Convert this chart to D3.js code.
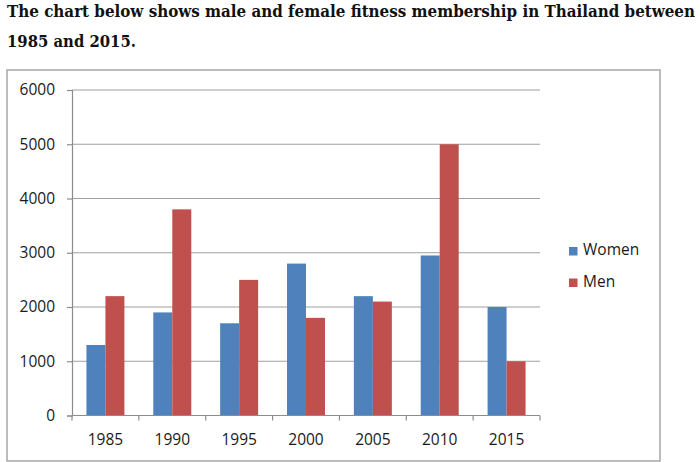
<!DOCTYPE html>
<html>
<head>
<meta charset="utf-8">
<script src="https://cdn.jsdelivr.net/npm/d3@7"></script>
<style>
  html, body { margin: 0; padding: 0; background: #fff; }
  svg { display: block; }
</style>
</head>
<body>
<svg id="chart"></svg>
<script>
// ---- data ----
const years = ['1985', '1990', '1995', '2000', '2005', '2010', '2015'];
const women = [1300, 1900, 1700, 2800, 2200, 2950, 2000];
const men   = [2200, 3800, 2500, 1800, 2100, 5000, 1000];
const seriesNames = ['Women', 'Men'];
const yTicks = [0, 1000, 2000, 3000, 4000, 5000, 6000];
const titleLines = [
  'The chart below shows male and female fitness membership in Thailand between',
  '1985 and 2015.'
];

const W = 700, H = 462;
const colors = { Women: '#4f81bd', Men: '#c0504d' };
const tickFont = '"Open Sans", "Noto Sans", sans-serif';

const svg = d3.select('#chart').attr('width', W).attr('height', H);

// title
const title = svg.append('g')
  .attr('font-family', '"DejaVu Serif Condensed", "DejaVu Serif", serif')
  .attr('font-weight', 'bold')
  .attr('font-size', 16.5)
  .attr('fill', '#111');
title.append('text').attr('x', 7).attr('y', 16.5)
  .attr('textLength', 688).attr('lengthAdjust', 'spacingAndGlyphs')
  .text(titleLines[0]);
title.append('text').attr('x', 7).attr('y', 47)
  .text(titleLines[1]);

// frame
svg.append('rect')
  .attr('x', 7).attr('y', 70).attr('width', 653).attr('height', 391)
  .attr('fill', 'none').attr('stroke', '#a6a6a6').attr('stroke-width', 1.5);

// scales
const x = d3.scaleBand().domain(years).range([72, 540]).paddingInner(0).paddingOuter(0);
const xs = d3.scaleBand().domain(seriesNames).range([0, x.bandwidth()]).paddingOuter(0.76);
const y = d3.scaleLinear().domain([0, 6000]).range([415.5, 90]);

// gridlines
svg.append('g').selectAll('line')
  .data(yTicks.filter(d => d > 0))
  .join('line')
  .attr('x1', 72).attr('x2', 540)
  .attr('y1', d => y(d)).attr('y2', d => y(d))
  .attr('stroke', '#a0a0a0').attr('stroke-width', 1.2);

// bars
const rows = years.map((yr, i) => ({ year: yr, Women: women[i], Men: men[i] }));
svg.append('g').selectAll('g')
  .data(rows)
  .join('g')
  .attr('transform', d => `translate(${x(d.year)},0)`)
  .selectAll('rect')
  .data(d => seriesNames.map(s => ({ key: s, value: d[s] })))
  .join('rect')
  .attr('x', d => xs(d.key))
  .attr('width', xs.bandwidth())
  .attr('y', d => y(d.value))
  .attr('height', d => y(0) - y(d.value))
  .attr('fill', d => colors[d.key]);

// y axis
const yAxis = svg.append('g')
  .attr('transform', 'translate(72,0)')
  .call(d3.axisLeft(y).tickValues(yTicks).tickSize(5).tickPadding(12).tickFormat(d3.format('d')));
yAxis.select('.domain').attr('stroke', '#8c8c8c').attr('stroke-width', 1.2);
yAxis.selectAll('.tick line').attr('stroke', '#8c8c8c').attr('stroke-width', 1.2);
yAxis.selectAll('.tick text')
  .attr('font-family', tickFont).attr('font-size', 15.5).attr('fill', '#1a1a1a');

// x axis: ticks at category boundaries
const xAxis = svg.append('g').attr('transform', `translate(0,${y(0)})`);
xAxis.append('line').attr('x1', 72).attr('x2', 540)
  .attr('stroke', '#8c8c8c').attr('stroke-width', 1.2);
xAxis.selectAll('line.tk')
  .data(years.concat(['end']))
  .join('line').attr('class', 'tk')
  .attr('x1', (d, i) => 72 + i * x.step()).attr('x2', (d, i) => 72 + i * x.step())
  .attr('y1', 0).attr('y2', 5)
  .attr('stroke', '#8c8c8c').attr('stroke-width', 1.2);
xAxis.selectAll('text')
  .data(years)
  .join('text')
  .attr('x', d => x(d) + x.bandwidth() / 2)
  .attr('y', 29.5)
  .attr('text-anchor', 'middle')
  .attr('font-family', tickFont).attr('font-size', 15.5).attr('fill', '#1a1a1a')
  .text(d => d);

// legend
const legend = svg.append('g').selectAll('g')
  .data(seriesNames)
  .join('g')
  .attr('transform', (d, i) => `translate(569,${247 + i * 31.5})`);
legend.append('rect').attr('width', 8.5).attr('height', 8.5).attr('fill', d => colors[d]);
legend.append('text')
  .attr('x', 14).attr('y', 8)
  .attr('font-family', tickFont).attr('font-size', 15.5).attr('fill', '#1a1a1a')
  .text(d => d);
</script>
</body>
</html>
